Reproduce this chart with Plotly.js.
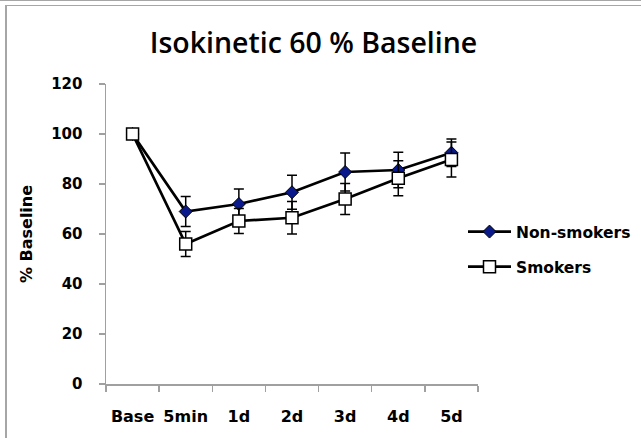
<!DOCTYPE html>
<html>
<head>
<meta charset="utf-8">
<script src="https://cdn.plot.ly/plotly-3.0.1.min.js"></script>
<style>
  html, body { margin: 0; padding: 0; background: #fff; }
  #wrap { position: relative; width: 641px; height: 438px; overflow: hidden; }
  #chart { position: absolute; left: 0; top: 0; width: 641px; height: 438px; }
  .deco { position: absolute; background: #a6a6a6; pointer-events: none; }
</style>
</head>
<body>
<div id="wrap">
  <div id="chart"></div>
  <div class="deco" style="left:0;top:0;width:641px;height:1px;"></div>
  <div class="deco" style="left:5px;top:5px;width:636px;height:1px;"></div>
  <div class="deco" style="left:5px;top:5px;width:2px;height:433px;"></div>
</div>
<script>
const categories = ['Base', '5min', '1d', '2d', '3d', '4d', '5d'];
const nonSmokers = [100, 69, 72, 76.7, 84.8, 85.6, 92.5];
const nonSmokersErr = [0, 6, 6, 6.8, 7.6, 7.1, 5.5];
const smokers = [100, 56, 65.2, 66.5, 74, 82.3, 89.8];
const smokersErr = [0, 5, 5, 6.5, 6.2, 7, 7];
const yTicks = [0, 20, 40, 60, 80, 100, 120];

const tickFont = { family: 'DejaVu Sans', size: 15, color: '#000', weight: 700 };

const traces = [
  {
    name: 'Non-smokers', x: categories, y: nonSmokers, type: 'scatter', mode: 'lines+markers',
    legendgroup: 'a',
    line: { color: '#000', width: 2.75 },
    marker: { symbol: 'diamond', size: 10, color: '#0a1a8c', line: { color: '#000', width: 1 } },
    error_y: { type: 'data', array: nonSmokersErr, visible: true, color: '#000', thickness: 1.5, width: 5 }
  },
  {
    name: 'Smokers', x: categories, y: smokers, type: 'scatter', mode: 'lines+markers',
    legendgroup: 'b',
    line: { color: '#000', width: 2.75 },
    marker: { symbol: 'square', size: 12, color: '#fff', line: { color: '#000', width: 1.5 } },
    error_y: { type: 'data', array: smokersErr, visible: true, color: '#000', thickness: 1.5, width: 5 }
  }
];

const layout = {
  width: 641, height: 438,
  margin: { l: 106, r: 163, t: 84, b: 54, autoexpand: false },
  paper_bgcolor: '#fff', plot_bgcolor: '#fff',
  title: {
    text: 'Isokinetic 60 % Baseline',
    font: { family: 'Open Sans', size: 28.5, color: '#000', weight: 600 },
    x: 313.5 / 641, xref: 'container', xanchor: 'center',
    y: 1 - 43 / 438, yref: 'container', yanchor: 'middle'
  },
  xaxis: {
    type: 'category', range: [-0.5, 6.5],
    showline: true, linecolor: '#a0a0a0', linewidth: 1.5,
    ticks: 'outside', tickson: 'boundaries', ticklen: 6, tickcolor: '#a0a0a0', tickwidth: 1.5,
    showgrid: false, zeroline: false, tickangle: 0,
    tickfont: { family: 'DejaVu Sans', size: 16, color: '#000', weight: 700 },
    ticklabelstandoff: 17
  },
  yaxis: {
    range: [0, 120], tickvals: yTicks, ticktext: yTicks.map(String),
    showline: true, linecolor: '#a0a0a0', linewidth: 1.5,
    ticks: 'outside', ticklen: 6, tickcolor: '#a0a0a0', tickwidth: 1.5,
    showgrid: false, zeroline: false,
    tickfont: tickFont,
    ticklabelstandoff: 13,
    title: { text: '% Baseline', font: { family: 'DejaVu Sans', size: 16, color: '#000', weight: 700 }, standoff: 14 }
  },
  showlegend: true,
  legend: {
    x: (463 - 106) / 372, xanchor: 'left',
    y: 1 - (215 - 84) / 300, yanchor: 'top',
    bgcolor: 'rgba(0,0,0,0)', borderwidth: 0,
    itemwidth: 43,
    traceorder: 'grouped', tracegroupgap: 12,
    font: { family: 'DejaVu Sans', size: 15.5, color: '#000', weight: 700 }
  }
};

Plotly.newPlot('chart', traces, layout, { staticPlot: true, displayModeBar: false });
</script>
</body>
</html>
